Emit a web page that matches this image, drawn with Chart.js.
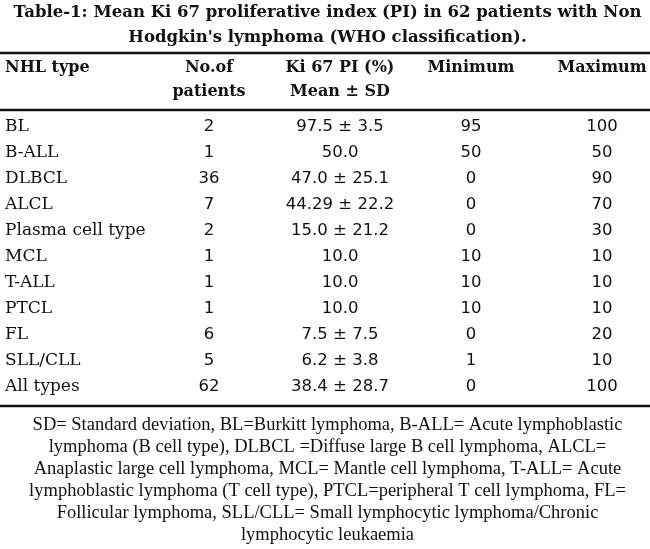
<!DOCTYPE html>
<html>
<head>
<meta charset="utf-8">
<script src="https://cdn.jsdelivr.net/npm/chart.js@4.4.1/dist/chart.umd.min.js"></script>
<style>
  html, body { margin: 0; padding: 0; background: #fff; }
  #wrap { width: 650px; height: 549px; }
</style>
</head>
<body>
<div id="wrap"><canvas id="ki67-table"></canvas></div>
<script>
const titleLines = [
  'Table-1: Mean Ki 67 proliferative index (PI) in 62 patients with Non',
  "Hodgkin's lymphoma (WHO classification)."
];
const headers = [['NHL type'], ['No.of', 'patients'], ['Ki 67 PI (%)', 'Mean \u00b1 SD'], ['Minimum'], ['Maximum']];
const nhlTypes = ['BL', 'B-ALL', 'DLBCL', 'ALCL', 'Plasma cell type', 'MCL', 'T-ALL', 'PTCL', 'FL', 'SLL/CLL', 'All types'];
const patients = [2, 1, 36, 7, 2, 1, 1, 1, 6, 5, 62];
const meanPI = ['97.5', '50.0', '47.0', '44.29', '15.0', '10.0', '10.0', '10.0', '7.5', '6.2', '38.4'];
const sdPI = ['3.5', null, '25.1', '22.2', '21.2', null, null, null, '7.5', '3.8', '28.7'];
const minimum = [95, 50, 0, 0, 0, 10, 10, 10, 0, 1, 0];
const maximum = [100, 50, 90, 70, 30, 10, 10, 10, 20, 10, 100];
const footnoteLines = [
  'SD= Standard deviation, BL=Burkitt lymphoma, B-ALL= Acute lymphoblastic',
  'lymphoma (B cell type), DLBCL =Diffuse large B cell lymphoma, ALCL=',
  'Anaplastic large cell lymphoma, MCL= Mantle cell lymphoma, T-ALL= Acute',
  'lymphoblastic lymphoma (T cell type), PTCL=peripheral T cell lymphoma, FL=',
  'Follicular lymphoma, SLL/CLL= Small lymphocytic lymphoma/Chronic',
  'lymphocytic leukaemia'
];

const xMin = -0.557;
const ink = '#111';
const labelFont = '17px "DejaVu Serif"';
const numberFont = '16.5px "DejaVu Sans"';
const headerFont = 'bold 16px "DejaVu Serif"';

const kiText = meanPI.map((m, i) => sdPI[i] ? m + ' \u00b1 ' + sdPI[i] : m);
const columns = [
  { cells: nhlTypes, align: 'left', font: labelFont },
  { cells: patients.map(String), align: 'center', font: numberFont },
  { cells: kiText, align: 'center', font: numberFont },
  { cells: minimum.map(String), align: 'center', font: numberFont },
  { cells: maximum.map(String), align: 'center', font: numberFont }
];

function column(col, i) {
  return {
    label: headers[i].join(' '),
    data: nhlTypes.map(t => ({ x: i === 0 ? xMin : i, y: t })),
    cells: col.cells,
    cellAlign: col.align,
    cellFont: col.font,
    pointRadius: 0,
    pointHoverRadius: 0
  };
}

// writes the cell texts and header at the points laid out by the scales
const tableText = {
  id: 'tableText',
  afterDatasetsDraw(chart) {
    const ctx = chart.ctx;
    const { top, bottom } = chart.chartArea;
    const xScale = chart.scales.x;
    ctx.save();
    ctx.fillStyle = ink;
    ctx.textBaseline = 'middle';
    chart.data.datasets.forEach((ds, i) => {
      const meta = chart.getDatasetMeta(i);
      ctx.font = ds.cellFont;
      ctx.textAlign = ds.cellAlign;
      meta.data.forEach((pt, j) => ctx.fillText(ds.cells[j], pt.x, pt.y));
      ctx.font = headerFont;
      const hx = xScale.getPixelForValue(ds.data[0].x);
      headers[i].forEach((line, k) => ctx.fillText(line, hx, top - 46 + k * 24));
    });
    ctx.strokeStyle = ink;
    ctx.lineWidth = 2.5;
    [top - 61, top - 4, bottom + 6].forEach(y => {
      ctx.beginPath();
      ctx.moveTo(0, y);
      ctx.lineTo(chart.width, y);
      ctx.stroke();
    });
    ctx.restore();
  }
};

new Chart(document.getElementById('ki67-table'), {
  type: 'scatter',
  data: { datasets: columns.map(column) },
  options: {
    responsive: true,
    maintainAspectRatio: false,
    animation: false,
    events: [],
    layout: { padding: { left: 5, right: 0, top: 0, bottom: 0 } },
    scales: {
      x: { type: 'linear', min: xMin, max: 4.366, display: false },
      y: { type: 'category', labels: nhlTypes, offset: true, display: false }
    },
    plugins: {
      legend: { display: false },
      tooltip: { enabled: false },
      title: {
        display: true,
        text: titleLines,
        color: ink,
        font: { family: 'DejaVu Serif', weight: 'bold', size: 16.5, lineHeight: '25px' },
        padding: { top: 0, bottom: 64 }
      },
      subtitle: {
        display: true,
        position: 'bottom',
        text: footnoteLines,
        color: ink,
        font: { family: 'Liberation Serif', size: 18.5, lineHeight: '22px' },
        padding: { top: 14, bottom: 3 }
      }
    }
  },
  plugins: [tableText]
});
</script>
</body>
</html>
